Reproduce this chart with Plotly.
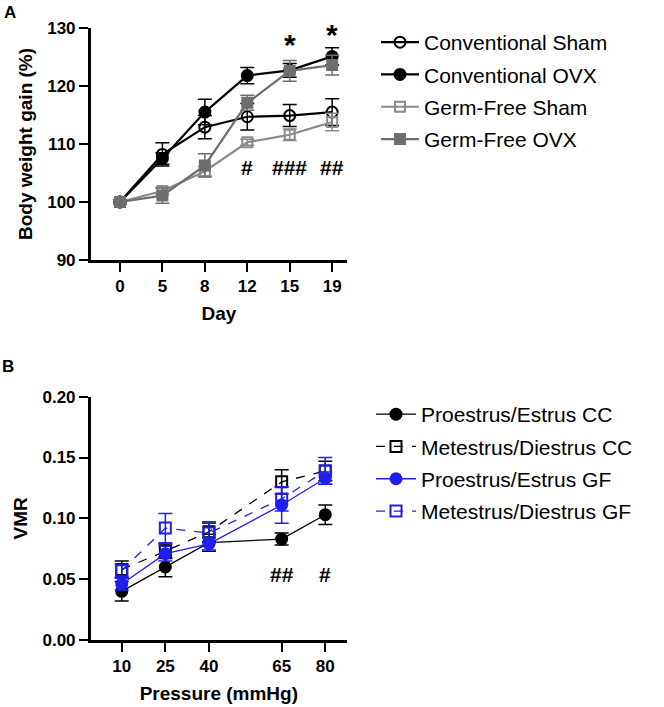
import plotly.graph_objects as go

# ---------- Panel A data ----------
days = ["0", "5", "8", "12", "15", "19"]
conv_sham = [100, 108.2, 112.9, 114.7, 114.9, 115.5]
conv_sham_err = [0.3, 2.0, 2.0, 2.3, 1.9, 2.3]
conv_ovx = [100, 107.5, 115.5, 121.8, 122.7, 125.1]
conv_ovx_err = [0.3, 1.0, 2.2, 1.4, 1.2, 1.5]
gf_sham = [100, 101.9, 105.3, 110.3, 111.6, 113.8]
gf_sham_err = [0.3, 0.6, 0.8, 0.5, 1.0, 1.5]
gf_ovx = [100, 101.1, 106.3, 117.1, 122.6, 123.6]
gf_ovx_err = [0.3, 1.3, 2.0, 1.3, 1.8, 1.7]

star_days = ["15", "19"]
star_y = [127.1, 128.9]
hash_days = ["12", "15", "19"]
hash_labels = ["#", "###", "##"]
hash_y = [106.0, 106.0, 106.0]

# ---------- Panel B data ----------
pressure = [10, 25, 40, 65, 80]
pe_cc = [0.040, 0.060, 0.080, 0.083, 0.103]
pe_cc_err = [0.008, 0.008, 0.007, 0.005, 0.008]
md_cc = [0.058, 0.073, 0.089, 0.130, 0.139]
md_cc_err = [0.007, 0.006, 0.008, 0.010, 0.008]
pe_gf = [0.046, 0.071, 0.079, 0.111, 0.133]
pe_gf_err = [0.005, 0.006, 0.005, 0.015, 0.005]
md_gf = [0.057, 0.092, 0.088, 0.116, 0.139]
md_gf_err = [0.005, 0.012, 0.008, 0.010, 0.011]

hashB_x = [65, 80]
hashB_labels = ["##", "#"]
hashB_y = [0.054, 0.054]

GRAY1 = "#8a8a8a"
GRAY2 = "#6e6e6e"
BLUE = "#1f1ff0"
FONT = "Liberation Sans, Arial"

fig = go.Figure()

def add_series(x, y, err, name, color, symbol, dash, lw, xa, ya, legend, msize):
    fig.add_trace(go.Scatter(
        x=x, y=y, name=name, mode="lines+markers",
        line=dict(color=color, width=lw, dash=dash),
        marker=dict(symbol=symbol, size=msize, color=color,
                    line=dict(color=color, width=2)),
        error_y=dict(type="data", array=err, visible=True, color=color,
                     thickness=1.5, width=7),
        xaxis=xa, yaxis=ya, legend=legend, legendgroup=name,
    ))

add_series(days, conv_sham, conv_sham_err, "Conventional Sham", "black", "circle-open", "solid", 2.2, "x", "y", "legend", 11)
add_series(days, conv_ovx, conv_ovx_err, "Conventional OVX", "black", "circle", "solid", 2.2, "x", "y", "legend", 11)
add_series(days, gf_sham, gf_sham_err, "Germ-Free Sham", GRAY1, "square-open", "solid", 2.2, "x", "y", "legend", 10)
add_series(days, gf_ovx, gf_ovx_err, "Germ-Free OVX", GRAY2, "square", "solid", 2.2, "x", "y", "legend", 10)

add_series(pressure, pe_cc, pe_cc_err, "Proestrus/Estrus CC", "black", "circle", "solid", 1.3, "x2", "y2", "legend2", 11)
add_series(pressure, md_cc, md_cc_err, "Metestrus/Diestrus CC", "black", "square-open", "dash", 1.3, "x2", "y2", "legend2", 11)
add_series(pressure, pe_gf, pe_gf_err, "Proestrus/Estrus GF", BLUE, "circle", "solid", 1.3, "x2", "y2", "legend2", 11)
add_series(pressure, md_gf, md_gf_err, "Metestrus/Diestrus GF", BLUE, "square-open", "dash", 1.3, "x2", "y2", "legend2", 11)

W, H = 664, 707
def fy(px):
    return 1 - px / H
def fx(px):
    return px / W

tickfont = dict(family=FONT, size=17, color="black", weight="bold")
titlefont = dict(family=FONT, size=19, color="black", weight="bold")

axis_common = dict(showline=True, linecolor="black", linewidth=2.5, ticks="outside",
                   tickcolor="black", tickwidth=2, ticklen=9, showgrid=False,
                   zeroline=False, tickfont=tickfont, mirror=False, automargin=False)

fig.update_layout(
    width=W, height=H, margin=dict(l=0, r=0, t=0, b=0, autoexpand=False),
    paper_bgcolor="white", plot_bgcolor="white",
    xaxis=dict(domain=[fx(90.7), fx(347)], type="category", range=[-0.69, 5.35],
               anchor="y", title=dict(text="Day", font=titlefont, standoff=12), **axis_common),
    yaxis=dict(domain=[fy(260), fy(28)], range=[90, 130], tickvals=[90, 100, 110, 120, 130],
               anchor="x", title=dict(text="Body weight gain (%)", font=titlefont, standoff=10), **axis_common),
    xaxis2=dict(domain=[fx(90.7), fx(347)], range=[-0.67, 87.47], tickvals=pressure,
                anchor="y2", title=dict(text="Pressure (mmHg)", font=titlefont, standoff=12), **axis_common),
    yaxis2=dict(domain=[fy(640), fy(396.7)], range=[0, 0.20], tickvals=[0, 0.05, 0.10, 0.15, 0.20],
                tickformat=".2f", anchor="x2",
                title=dict(text="VMR", font=titlefont, standoff=10), **axis_common),
    legend=dict(x=fx(376), y=fy(22), xanchor="left", yanchor="top",
                font=dict(family=FONT, size=21, color="black"),
                itemwidth=38, traceorder="grouped", tracegroupgap=2, bgcolor="rgba(0,0,0,0)"),
    legend2=dict(x=fx(371), y=fy(394), xanchor="left", yanchor="top",
                 font=dict(family=FONT, size=21, color="black"),
                 itemwidth=40, traceorder="grouped", tracegroupgap=2, bgcolor="rgba(0,0,0,0)"),
    showlegend=True,
)

annotations = []
for d, yv in zip(star_days, star_y):
    annotations.append(dict(x=days.index(d), y=yv, xref="x", yref="y", text="*", showarrow=False,
                            font=dict(family=FONT, size=30, color="black", weight="bold")))
for d, lab, yv in zip(hash_days, hash_labels, hash_y):
    annotations.append(dict(x=days.index(d), y=yv, xref="x", yref="y", text="<b>" + lab + "</b>", showarrow=False,
                            font=dict(family=FONT, size=21, color="black", weight="bold")))
for xv, lab, yv in zip(hashB_x, hashB_labels, hashB_y):
    annotations.append(dict(x=xv, y=yv, xref="x2", yref="y2", text="<b>" + lab + "</b>", showarrow=False,
                            font=dict(family=FONT, size=21, color="black", weight="bold")))
annotations.append(dict(x=fx(10), y=fy(12), xref="paper", yref="paper", text="A", showarrow=False,
                        xanchor="center", yanchor="middle",
                        font=dict(family=FONT, size=17, color="black", weight="bold")))
annotations.append(dict(x=fx(8), y=fy(366), xref="paper", yref="paper", text="B", showarrow=False,
                        xanchor="center", yanchor="middle",
                        font=dict(family=FONT, size=17, color="black", weight="bold")))
fig.update_layout(annotations=annotations)

fig.write_html("out.html", config={"displayModeBar": False},
               post_script="document.body.style.margin='0';document.body.style.padding='0';")
